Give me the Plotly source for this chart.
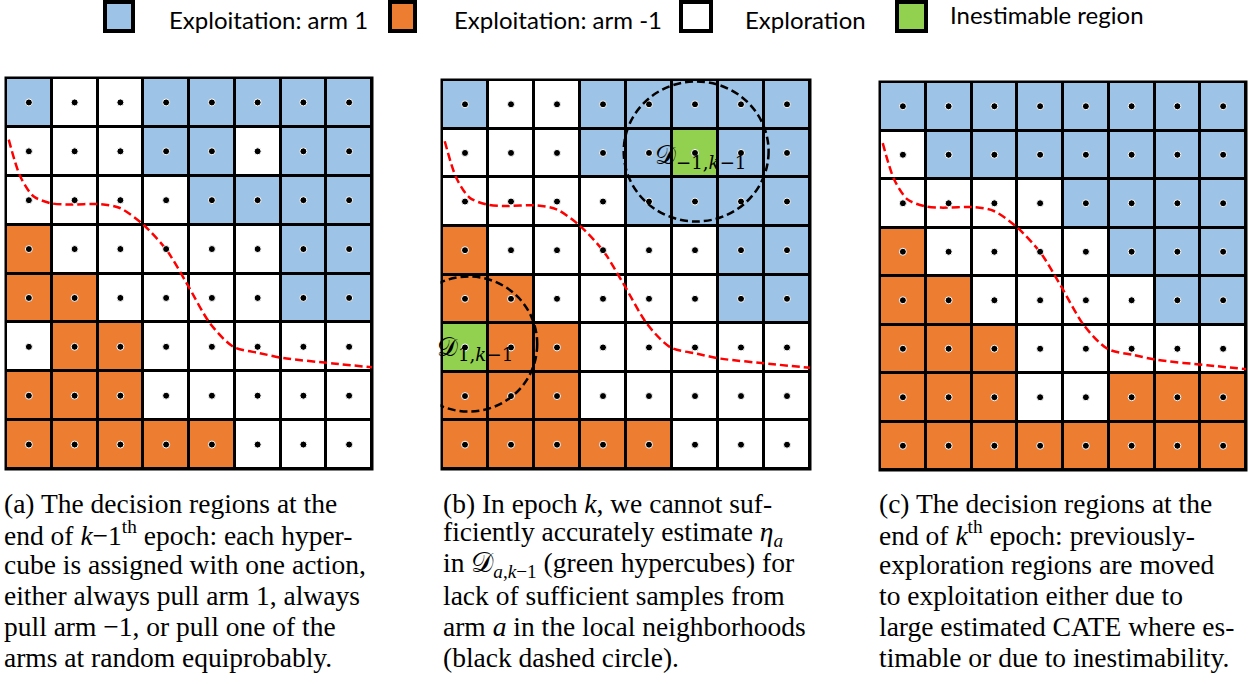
import plotly.graph_objects as go

W, H = 1256, 684

# ---------------- data ----------------
# cell codes: W = exploration, B = exploitation arm 1, O = exploitation arm -1, G = inestimable
grid_a = ["BWWBBBBB",
          "WWWBBWBB",
          "WWWWBBBB",
          "OWWWWWBB",
          "OOWWWWBB",
          "WOOWWWWW",
          "OOOWWWWW",
          "OOOOOWWW"]
grid_b = ["BWWBBBBB",
          "WWWBBGBB",
          "WWWWBBBB",
          "OWWWWWBB",
          "OOWWWWBB",
          "GOOWWWWW",
          "OOOWWWWW",
          "OOOOOWWW"]
grid_c = ["BBBBBBBB",
          "WBBBBBBB",
          "WWWWBBBB",
          "OWWWWBBB",
          "OOWWWWBB",
          "OOOWWWWW",
          "OOOWWOOO",
          "OOOOOOOO"]
code_of = {"W": 0, "B": 1, "O": 2, "G": 3}
cell_colors = ["#FFFFFF", "#9DC3E6", "#ED7D31", "#92D050"]

# red dashed boundary (grid units: column, row from top)
curve_col = [0.06, 0.31, 0.60, 0.97, 1.33, 2.06, 2.49, 3.00, 3.51, 3.95, 4.46, 4.97, 5.55, 6.06, 7.15, 8.00]
curve_row = [1.26, 2.01, 2.42, 2.56, 2.59, 2.58, 2.66, 3.00, 3.52, 4.20, 5.02, 5.50, 5.63, 5.73, 5.84, 5.92]

legend_labels = ["Exploitation: arm 1", "Exploitation: arm -1", "Exploration", "Inestimable region"]

captions = [
    ["(a) The decision regions at the",
     "end of <i>k</i>\u22121<sup>th</sup> epoch: each hyper-",
     "cube is assigned with one action,",
     "either always pull arm 1, always",
     "pull arm \u22121, or pull one of the",
     "arms at random equiprobably."],
    ["(b) In epoch <i>k</i>, we cannot suf-",
     "ficiently accurately estimate <i>\u03b7<sub>a</sub></i>",
     "in \U0001D49F<sub><i>a</i>,<i>k</i>\u22121</sub> (green hypercubes) for",
     "lack of sufficient samples from",
     "arm <i>a</i> in the local neighborhoods",
     "(black dashed circle)."],
    ["(c) The decision regions at the",
     "end of <i>k</i><sup>th</sup> epoch: previously-",
     "exploration regions are moved",
     "to exploitation either due to",
     "large estimated CATE where es-",
     "timable or due to inestimability."],
]

# ---------------- layout helpers ----------------
def px_x(p):
    return p / W

def px_y(p):
    return 1 - p / H

grids = [grid_a, grid_b, grid_c]
# pixel boxes of the three grids (left, right, top, bottom)
boxes = [(6, 372, 78, 469), (442, 810, 80, 469), (880, 1246, 82, 470)]
PADPX = 1.5
N = 8

fig = go.Figure()
layout_axes = {}
for i, (g, box) in enumerate(zip(grids, boxes)):
    l, r, t, b = box
    cw = (r - l) / N
    ch = (b - t) / N
    px_pad = PADPX / cw
    py_pad = PADPX / ch
    sx = "" if i == 0 else str(i + 1)
    xa, ya = "x" + sx, "y" + sx
    z = [[code_of[c] for c in row] for row in g]
    centers = [k + 0.5 for k in range(N)]
    fig.add_trace(go.Heatmap(
        z=z, x=centers, y=centers, xaxis=xa, yaxis=ya,
        zmin=0, zmax=3,
        colorscale=[[0, cell_colors[0]], [1 / 3, cell_colors[1]], [2 / 3, cell_colors[2]], [1, cell_colors[3]]],
        showscale=False, xgap=3, ygap=3, hoverinfo="skip"))
    fig.add_trace(go.Scatter(
        x=curve_col, y=curve_row, xaxis=xa, yaxis=ya, mode="lines",
        line=dict(color="#FF0000", width=2.5, dash="8px,4px", shape="spline", smoothing=0.8),
        hoverinfo="skip", showlegend=False))
    dx = [c + 0.5 for rr in range(N) for c in range(N)]
    dy = [rr + 0.5 for rr in range(N) for c in range(N)]
    fig.add_trace(go.Scatter(
        x=dx, y=dy, xaxis=xa, yaxis=ya, mode="markers",
        marker=dict(color="black", size=7, line=dict(color="white", width=1)),
        hoverinfo="skip", showlegend=False))
    layout_axes["xaxis" + sx] = dict(domain=[px_x(l - PADPX), px_x(r + PADPX)], range=[-px_pad, N + px_pad],
                                     visible=False, anchor=ya, fixedrange=True)
    layout_axes["yaxis" + sx] = dict(domain=[px_y(b + PADPX), px_y(t - PADPX)], range=[N + py_pad, -py_pad],
                                     visible=False, anchor=xa, fixedrange=True)

shapes = []
# dashed neighbourhood circles in panel (b)
shapes.append(dict(type="circle", xref="x2", yref="y2", x0=3.95, x1=7.10, y0=0.03, y1=2.91,
                   line=dict(color="black", width=2.5, dash="8px,4px"), layer="above"))
shapes.append(dict(type="circle", xref="x2", yref="y2", x0=-0.91, x1=2.07, y0=4.04, y1=6.82,
                   line=dict(color="black", width=2.5, dash="8px,4px"), layer="above"))

annotations = []
# labels of inestimable regions
annotations.append(dict(xref="paper", yref="paper", x=px_x(653), y=px_y(156), xanchor="left", yanchor="middle",
                        text="\U0001D49F<sub>\u22121,<i>k</i>\u22121</sub>", showarrow=False,
                        font=dict(family="DejaVu Serif, Liberation Serif, serif", size=26, color="black")))
annotations.append(dict(xref="paper", yref="paper", x=px_x(435), y=px_y(349), xanchor="left", yanchor="middle",
                        text="\U0001D49F<sub>1,<i>k</i>\u22121</sub>", showarrow=False,
                        font=dict(family="DejaVu Serif, Liberation Serif, serif", size=26, color="black")))

# legend at top
leg_sq = [(103, 135), (388, 417), (679, 713), (895, 928)]
leg_tx = [(167, 19), (452, 19), (743, 19), (948, 15)]
for k, lab in enumerate(legend_labels):
    a, bb = leg_sq[k]
    shapes.append(dict(type="rect", xref="paper", yref="paper", x0=px_x(a + 2), x1=px_x(bb - 2),
                       y0=px_y(31), y1=px_y(2), fillcolor=cell_colors[[1, 2, 0, 3][k]],
                       line=dict(color="black", width=4)))
    tx, ty = leg_tx[k]
    annotations.append(dict(xref="paper", yref="paper", x=px_x(tx), y=px_y(ty), xanchor="left", yanchor="middle",
                            text=lab, showarrow=False,
                            font=dict(family="Lato, sans-serif", size=24, color="black")))

# captions
cap_x = [2, 441, 877]
for k, lines in enumerate(captions):
    for j, line in enumerate(lines):
        annotations.append(dict(xref="paper", yref="paper", x=px_x(cap_x[k]), y=px_y(503 + 30.8 * j),
                                xanchor="left", yanchor="middle", text=line, showarrow=False,
                                font=dict(family="Liberation Serif, serif", size=27.5, color="black")))

fig.update_layout(
    width=W, height=H, margin=dict(l=0, r=0, t=0, b=0),
    paper_bgcolor="white", plot_bgcolor="black", showlegend=False,
    shapes=shapes, annotations=annotations, **layout_axes)

fig.write_html("out.html", config={"displayModeBar": False},
               post_script="document.body.style.margin='0px';")
